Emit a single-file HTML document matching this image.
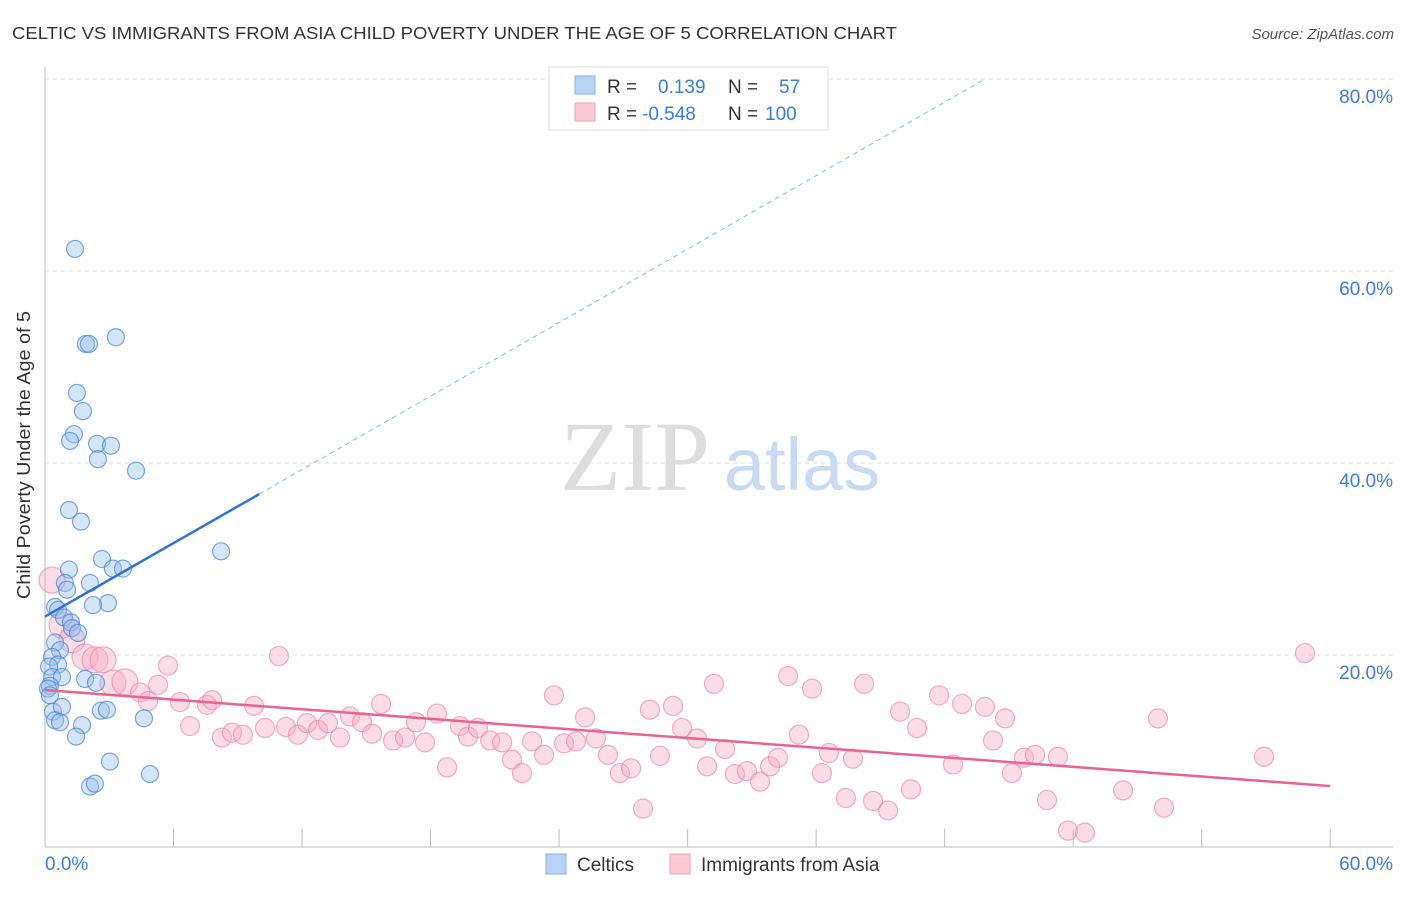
<!DOCTYPE html>
<html><head><meta charset="utf-8"><style>
body{margin:0;background:#fff;font-family:"Liberation Sans",sans-serif;}
</style></head><body>
<svg width="1406" height="892" font-family="Liberation Sans, sans-serif" xmlns="http://www.w3.org/2000/svg">
<text x="12" y="39" font-size="17.5" fill="#333" textLength="885" lengthAdjust="spacingAndGlyphs">CELTIC VS IMMIGRANTS FROM ASIA CHILD POVERTY UNDER THE AGE OF 5 CORRELATION CHART</text>
<text x="1394" y="39" font-size="15" fill="#555" font-style="italic" text-anchor="end">Source: ZipAtlas.com</text>
<g id="grid"></g>
<g>
<text x="635" y="490" font-size="100" style="font-family:'Liberation Serif',serif" fill="#ddd" text-anchor="middle">ZIP</text>
<text x="802" y="490" font-size="74" fill="#c9daf3" text-anchor="middle">atlas</text>
</g>
<g id="axes"></g>
<g id="pink"></g>
<g id="blue"></g>
<g id="trends"></g>
<text x="30" y="455" font-size="18" fill="#333" text-anchor="middle" textLength="288" lengthAdjust="spacingAndGlyphs" transform="rotate(-90 30 455)">Child Poverty Under the Age of 5</text>
<g>
<rect x="549" y="67" width="279" height="63" fill="#fff" stroke="#ddd"/>
<rect x="575" y="76" width="20" height="18" fill="#b9d3f5" stroke="#8ab0e6"/>
<rect x="575" y="103" width="20" height="18" fill="#fbc9d8" stroke="#f0a0ba"/>
<text x="607" y="93" font-size="19" fill="#333">R =</text>
<text x="658" y="93" font-size="19" fill="#3b7dd8">0.139</text>
<text x="728" y="93" font-size="19" fill="#333">N =</text>
<text x="779" y="93" font-size="19" fill="#3b7dd8">57</text>
<text x="607" y="120" font-size="19" fill="#333">R =</text>
<text x="642" y="120" font-size="19" fill="#3b7dd8">-0.548</text>
<text x="728" y="120" font-size="19" fill="#333">N =</text>
<text x="765" y="120" font-size="19" fill="#3b7dd8">100</text>
</g>
<g>
<rect x="546" y="854" width="20" height="20" fill="#b9d3f5" stroke="#8ab0e6"/>
<text x="577" y="871" font-size="19" fill="#333">Celtics</text>
<rect x="670" y="854" width="20" height="20" fill="#fbc9d8" stroke="#f0a0ba"/>
<text x="701" y="871" font-size="19" fill="#333">Immigrants from Asia</text>
</g>
</svg>
<script>
const blueX=[1.40,1.91,2.05,3.31,1.49,1.77,1.35,1.17,2.43,3.08,2.47,4.25,1.12,1.68,8.22,2.66,1.12,3.17,3.64,0.93,2.10,1.03,2.94,2.24,0.47,0.61,0.89,1.21,1.26,1.54,0.47,0.70,0.33,0.61,0.19,0.33,0.79,1.87,2.38,0.23,0.14,0.23,0.37,0.79,2.61,2.89,4.62,0.47,0.70,1.73,1.45,3.03,4.90,2.10,2.33];
const blueY=[62.3,52.4,52.4,53.1,47.3,45.4,43.0,42.3,42.0,41.8,40.4,39.2,35.1,33.9,30.8,30.0,28.9,29.0,29.0,27.5,27.5,26.8,25.4,25.2,25.0,24.7,23.9,23.4,22.8,22.3,21.3,20.5,19.8,19.0,18.8,17.7,17.7,17.5,17.1,16.8,16.5,15.8,14.1,14.6,14.2,14.3,13.4,13.2,13.0,12.7,11.5,8.9,7.6,6.3,6.6];
const pinkX=[0.33,0.79,1.26,1.87,2.33,2.71,3.17,3.73,4.44,5.28,5.74,4.81,6.30,6.77,7.56,7.80,8.26,8.73,9.24,9.76,10.27,10.92,11.25,11.81,12.23,12.75,13.21,13.77,14.24,14.80,15.27,15.69,16.25,16.81,17.32,17.74,18.30,18.77,19.37,19.75,20.21,20.78,21.34,21.80,22.27,22.74,23.30,23.76,24.23,24.79,25.21,25.72,26.28,26.84,27.36,27.92,28.24,28.71,29.32,29.74,30.44,30.91,31.23,31.75,32.21,32.77,33.38,33.85,34.22,34.69,35.20,35.81,36.27,36.60,37.39,37.72,38.24,38.66,39.36,39.92,40.43,40.71,41.74,42.39,42.81,43.88,44.26,44.82,45.14,45.70,46.22,46.78,47.29,47.76,48.55,50.33,51.96,52.24,56.91,58.82];
const pinkY=[27.8,23.1,21.6,19.8,19.5,19.5,17.1,17.2,16.1,16.9,18.9,15.2,15.1,12.6,14.8,15.3,11.4,11.9,11.7,14.7,12.4,19.9,12.5,11.7,12.9,12.2,12.9,11.4,13.6,13.0,11.8,14.9,11.1,11.4,13.0,10.9,13.9,8.3,12.6,11.5,12.4,11.1,10.9,9.1,7.7,11.0,9.6,15.8,10.8,11.0,13.5,11.3,9.6,7.7,8.2,4.0,14.3,9.5,14.7,12.4,11.3,8.4,17.0,10.2,7.6,7.9,6.8,8.4,9.3,17.8,11.7,16.5,7.7,9.8,5.1,9.2,17.0,4.8,3.8,14.1,6.0,12.4,15.8,8.6,14.9,14.6,11.1,13.4,7.7,9.3,9.6,4.9,9.4,1.7,1.5,5.9,13.4,4.1,9.4,20.2];
const xTicks=[0,6,12,18,24,30,36,42,48,54,60];
const yTicks=[20,40,60,80];
const yTickLabels=["20.0%","40.0%","60.0%","80.0%"];
const blueTrend=[24.0,1.276];
const pinkTrend=[16.35,-0.1667];
const NS="http://www.w3.org/2000/svg";
const X=v=>45+v*21.42, Y=v=>847-v*9.6;
function mk(p,t,a){const e=document.createElementNS(NS,t);for(const k in a)e.setAttribute(k,a[k]);p.appendChild(e);return e;}
const grid=document.getElementById('grid'),axes=document.getElementById('axes');
yTicks.forEach((t,i)=>{
 const l=mk(grid,'line',{x1:45,x2:1393,y1:Y(t),y2:Y(t),stroke:'#ddd','stroke-dasharray':'4 4'});
 
 
 const tx=mk(axes,'text',{x:1393,y:Y(t)+24,'font-size':19,fill:'#3b7dd8','text-anchor':'end'});
 tx.textContent=yTickLabels[i];
 
 
});
const ax=mk(axes,'line',{x1:45,x2:1393,y1:847,y2:847,stroke:'#bbb'});


const ay=mk(axes,'line',{x1:45,x2:45,y1:67,y2:847,stroke:'#bbb'});


xTicks.forEach(t=>{
 const l=mk(axes,'line',{x1:X(t),x2:X(t),y1:829,y2:847,stroke:'#bbb'});
 
 
});
const xl0=mk(axes,'text',{x:45,y:870,'font-size':19,fill:'#3b7dd8'});xl0.textContent='0.0%';


const xl1=mk(axes,'text',{x:1393,y:870,'font-size':19,fill:'#3b7dd8','text-anchor':'end'});xl1.textContent='60.0%';


const pg=document.getElementById('pink');
pinkX.forEach((x,i)=>{
 const c=mk(pg,'circle',{cx:X(x),cy:Y(pinkY[i]),r:x<4?13:9.5,fill:'rgba(248,170,195,0.4)',stroke:'rgba(235,130,165,0.65)','stroke-width':1.2});
 
 
});
const bg=document.getElementById('blue');
blueX.forEach((x,i)=>{
 const c=mk(bg,'circle',{cx:X(x),cy:Y(blueY[i]),r:8.5,fill:'rgba(150,190,240,0.4)',stroke:'rgba(70,130,215,0.7)','stroke-width':1.2});
 
 
});
const tg=document.getElementById('trends');
const bx2=(80-blueTrend[0])/blueTrend[1];
const t1=mk(tg,'line',{x1:X(0),y1:Y(blueTrend[0]),x2:X(10),y2:Y(blueTrend[0]+10*blueTrend[1]),stroke:'#2f72d4','stroke-width':2.5});


const t2=mk(tg,'line',{x1:X(10),y1:Y(blueTrend[0]+10*blueTrend[1]),x2:X(bx2),y2:Y(80),stroke:'#8fb3e6','stroke-width':1,'stroke-dasharray':'5 4'});


const t3=mk(tg,'line',{x1:X(0),y1:Y(pinkTrend[0]),x2:X(60),y2:Y(pinkTrend[0]+60*pinkTrend[1]),stroke:'#e8638e','stroke-width':2.5});


</script>
</body></html>
